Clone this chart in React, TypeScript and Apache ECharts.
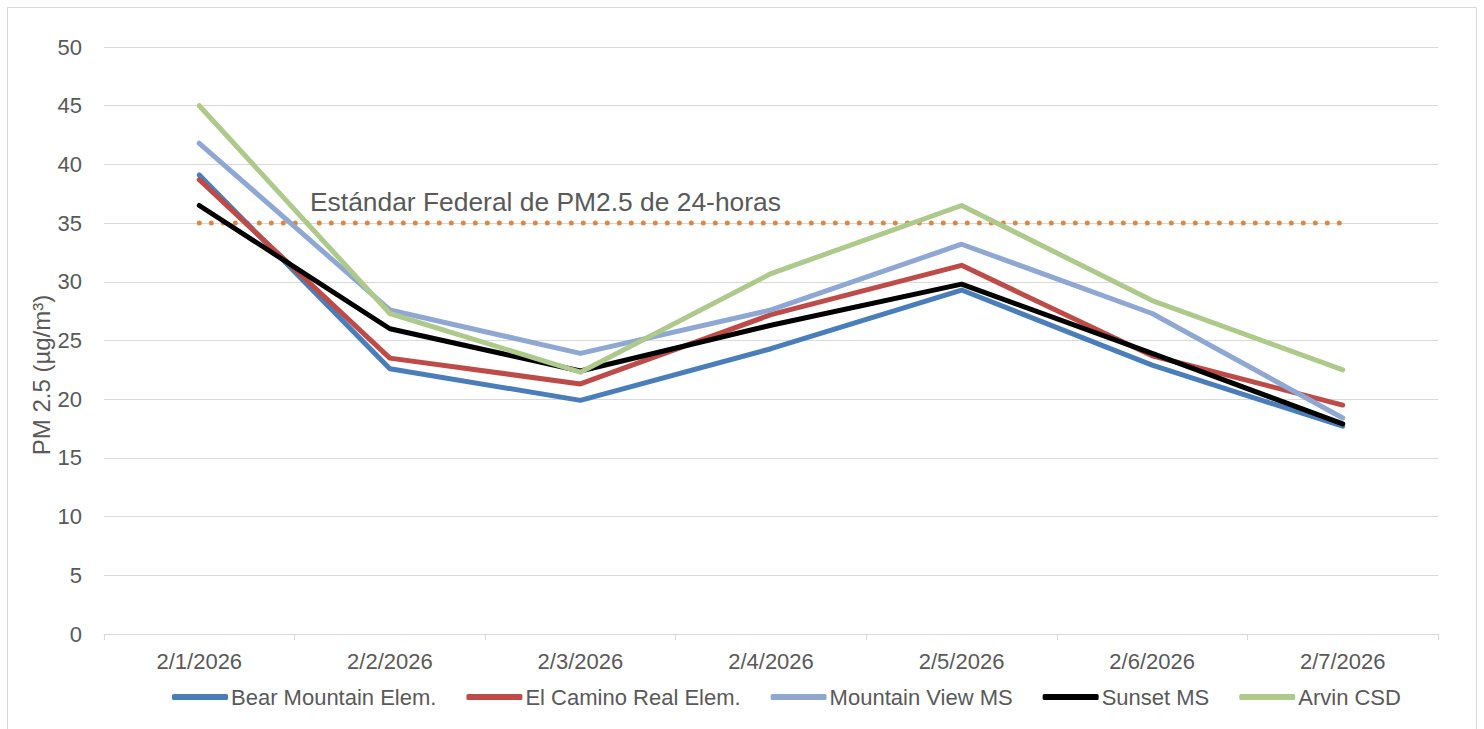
import React, { useEffect, useRef } from "react";
import * as echarts from "echarts";

const categories = ["2/1/2026", "2/2/2026", "2/3/2026", "2/4/2026", "2/5/2026", "2/6/2026", "2/7/2026"];
const bearMountain = [39.1, 22.6, 19.9, 24.3, 29.3, 22.9, 17.7];
const elCamino = [38.7, 23.5, 21.3, 27.2, 31.4, 23.7, 19.5];
const mountainView = [41.8, 27.6, 23.9, 27.6, 33.2, 27.3, 18.4];
const sunset = [36.5, 26.0, 22.4, 26.3, 29.8, 23.9, 17.9];
const arvin = [45.0, 27.3, 22.3, 30.7, 36.5, 28.4, 22.5];
const federalStandard = [35, 35, 35, 35, 35, 35, 35];
const standardLabel = "Estándar Federal de PM2.5 de 24-horas";
const yName = "PM 2.5 (µg/m³)";

const FONT = "'Liberation Sans', Arial, sans-serif";
const TXT = "#595959";

export default function App() {
  const ref = useRef<HTMLDivElement>(null);
  useEffect(() => {
    document.body.style.margin = "0";
    const chart = echarts.init(ref.current!, undefined, { renderer: "svg" });
    const line = (name: string, data: number[], color: string) => ({
      name,
      type: "line",
      data,
      symbol: "none",
      z: 3,
      lineStyle: { color, width: 5, cap: "round", join: "round" },
      itemStyle: { color },
    });
    chart.setOption({
      animation: false,
      backgroundColor: "#fff",
      textStyle: { fontFamily: FONT },
      grid: { left: 104, right: 46, top: 47, bottom: 95 },
      graphic: [
        {
          type: "rect",
          shape: { x: 7.5, y: 7.5, width: 1469, height: 760 },
          style: { fill: "none", stroke: "#D9D9D9", lineWidth: 1 },
          silent: true,
          z: -10,
        },
        {
          type: "text",
          x: 310,
          y: 202,
          style: {
            text: standardLabel,
            fill: TXT,
            font: `26.4px ${FONT}`,
            textVerticalAlign: "middle",
          },
          z: 10,
        },
        {
          type: "text",
          x: 41,
          y: 375,
          rotation: Math.PI / 2,
          style: {
            text: yName,
            fill: TXT,
            font: `24px ${FONT}`,
            textAlign: "center",
            textVerticalAlign: "middle",
          },
        },
      ],
      legend: {
        data: ["Bear Mountain Elem.", "El Camino Real Elem.", "Mountain View MS", "Sunset MS", "Arvin CSD"],
        left: 172,
        top: 686,
        padding: 0,
        icon: "roundRect",
        itemWidth: 56,
        itemHeight: 6,
        itemGap: 30,
        textStyle: { color: TXT, fontSize: 22, fontFamily: FONT, padding: [0, 0, 0, -2] },
      },
      xAxis: {
        type: "category",
        data: categories,
        boundaryGap: true,
        axisLine: { lineStyle: { color: "#D9D9D9", width: 1 } },
        axisTick: { show: true, length: 6, lineStyle: { color: "#D9D9D9" } },
        axisLabel: { color: TXT, fontSize: 22, fontFamily: FONT, margin: 16 },
      },
      yAxis: {
        type: "value",
        min: 0,
        max: 50,
        interval: 5,
        axisLine: { show: false },
        axisTick: { show: false },
        axisLabel: { color: TXT, fontSize: 22, fontFamily: FONT, margin: 22 },
        splitLine: { lineStyle: { color: "#D9D9D9", width: 1 } },
      },
      series: [
        {
          name: "Federal",
          type: "line",
          data: federalStandard,
          symbol: "none",
          z: 2,
          lineStyle: { color: "#E5843D", width: 5, type: [0, 12], cap: "round" },
        },
        line("Bear Mountain Elem.", bearMountain, "#4A7EBB"),
        line("El Camino Real Elem.", elCamino, "#BE4B48"),
        line("Mountain View MS", mountainView, "#8EA8D3"),
        line("Sunset MS", sunset, "#000000"),
        line("Arvin CSD", arvin, "#ADCA8B"),
      ],
    });
    return () => chart.dispose();
  }, []);
  return <div ref={ref} style={{ width: 1484, height: 729 }} />;
}
